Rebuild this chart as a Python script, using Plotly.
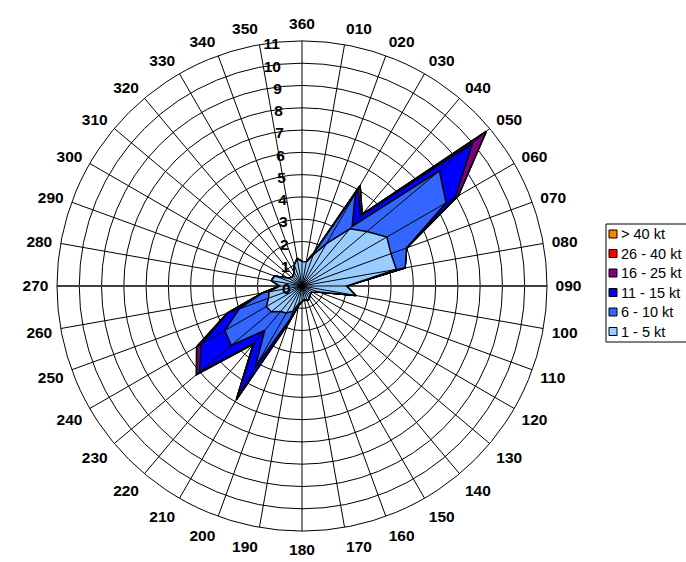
import plotly.graph_objects as go

# Wind directions (categories, clockwise from north)
directions = ["010", "020", "030", "040", "050", "060", "070", "080", "090",
              "100", "110", "120", "130", "140", "150", "160", "170", "180",
              "190", "200", "210", "220", "230", "240", "250", "260", "270",
              "280", "290", "300", "310", "320", "330", "340", "350", "360"]

# Frequency (%) per speed band, per direction
kt_1_5 = [1.1, 1.5, 2.2, 3.35, 3.8, 4.4, 4.25, 4.3, 2.0,
          2.45, 0.8, 0.55, 0.5, 0.55, 0.65, 0.7, 0.6, 0.7,
          0.8, 1.2, 1.4, 1.5, 1.8, 1.85, 1.6, 1.5, 1.0,
          1.4, 1.3, 0.7, 0.6, 0.6, 0.7, 1.0, 1.25, 1.1]
kt_6_10 = [0, 0.1, 2.6, 0.15, 4.25, 3.07, 0.75, 0.4, 0,
           0, 0, 0, 0, 0, 0, 0, 0, 0,
           0.1, 0.4, 2.8, 1.1, 2.35, 2.15, 1.4, 0.3, 0,
           0, 0, 0, 0, 0, 0, 0, 0, 0]
kt_11_15 = [0, 0, 0.23, 0.6, 1.95, 0.48, 0, 0, 0,
            0, 0, 0, 0, 0, 0, 0, 0, 0,
            0, 0.2, 1.65, 0.75, 1.85, 1.23, 0.55, 0, 0,
            0, 0, 0, 0, 0, 0, 0, 0, 0]
kt_16_25 = [0, 0, 0.19, 0.1, 0.8, 0.15, 0, 0, 0,
            0, 0, 0, 0, 0, 0, 0, 0, 0,
            0, 0, 0.05, 0.05, 0.18, 0.23, 0.02, 0, 0,
            0, 0, 0, 0, 0, 0, 0, 0, 0]
kt_26_40 = [0] * 36
kt_40 = [0] * 36

band_names = ["1 - 5 kt", "6 - 10 kt", "11 - 15 kt", "16 - 25 kt", "26 - 40 kt", "> 40 kt"]
band_values = [kt_1_5, kt_6_10, kt_11_15, kt_16_25, kt_26_40, kt_40]
band_colors = ["#99CCFF", "#3366FF", "#0000FF", "#800080", "#FF0000", "#FF8000"]

radial_ticks = list(range(0, 12))

theta = [int(d) % 360 for d in directions]

# cumulative (stacked) values
cumulative = []
running = [0.0] * len(directions)
for vals in band_values:
    running = [a + b for a, b in zip(running, vals)]
    cumulative.append(list(running))

fig = go.Figure()

# grey horizontal reference line (behind data)
fig.add_trace(go.Scatterpolar(r=[11, 0, 11], theta=[90, 90, 270], mode="lines",
                              line=dict(color="#808080", width=2),
                              showlegend=False, hoverinfo="skip"))

# stacked filled areas, largest first
for i in range(len(band_names) - 1, -1, -1):
    r = cumulative[i] + [cumulative[i][0]]
    t = theta + [theta[0]]
    fig.add_trace(go.Scatterpolar(
        r=r, theta=t, mode="lines", fill="toself",
        fillcolor=band_colors[i], name=band_names[i],
        line=dict(color="black", width=1.5),
        showlegend=False, hoverinfo="skip"))

# spokes drawn above areas
sr, st = [], []
for th in theta:
    sr += [0, radial_ticks[-1], None]
    st += [th, th, None]
fig.add_trace(go.Scatterpolar(r=sr, theta=st, mode="lines",
                              line=dict(color="black", width=1),
                              showlegend=False, hoverinfo="skip"))

W, H = 686, 562
cx, cy, R = 302, 286, 245
fig.update_layout(
    width=W, height=H,
    margin=dict(l=0, r=0, t=0, b=0, autoexpand=False),
    paper_bgcolor="white",
    showlegend=False,
    font=dict(family="Liberation Sans, Arial, sans-serif", color="black"),
    polar=dict(
        domain=dict(x=[(cx - R) / W, (cx + R) / W],
                    y=[(H - cy - R) / H, (H - cy + R) / H]),
        bgcolor="white",
        angularaxis=dict(
            rotation=90, direction="clockwise",
            tickmode="array", tickvals=theta,
            ticktext=["<b>%s</b>" % d for d in directions],
            tickfont=dict(size=15.5, color="black"),
            showgrid=False, showline=True, linecolor="black", linewidth=1,
            ticks="outside", ticklen=5, tickcolor="rgba(0,0,0,0)",
        ),
        radialaxis=dict(
            range=[0, radial_ticks[-1]], angle=92.5, side="counterclockwise",
            tickmode="array", tickvals=radial_ticks,
            ticktext=["<b>%d</b>" % v for v in radial_ticks],
            tickfont=dict(size=15.5, color="black"), tickangle=92.5,
            showgrid=True, gridcolor="black", gridwidth=1,
            showline=False, ticks="",
        ),
    ),
)

# legend box (drawn as shapes + text, Excel style)
leg_x0, leg_y0, row_h = 606, 224, 19.5
fig.add_shape(type="rect", xref="paper", yref="paper",
              x0=leg_x0 / W, x1=(W + 5) / W,
              y0=1 - (leg_y0 + 6 * row_h + 1) / H, y1=1 - leg_y0 / H,
              line=dict(color="black", width=1), fillcolor="white")
legend_order = list(range(len(band_names) - 1, -1, -1))
for k, i in enumerate(legend_order):
    yc = leg_y0 + 10 + k * row_h
    fig.add_shape(type="rect", xref="paper", yref="paper",
                  x0=609 / W, x1=617 / W,
                  y0=1 - (yc + 4) / H, y1=1 - (yc - 4) / H,
                  line=dict(color="black", width=1), fillcolor=band_colors[i])
    fig.add_annotation(x=619 / W, y=1 - yc / H, xref="paper", yref="paper",
                       text=band_names[i], showarrow=False,
                       xanchor="left", yanchor="middle",
                       font=dict(size=14.5, color="black",
                                 family="Liberation Sans, Arial, sans-serif"))

fig.write_html("out.html", config={"displayModeBar": False},
               post_script="document.body.style.margin='0px';")
